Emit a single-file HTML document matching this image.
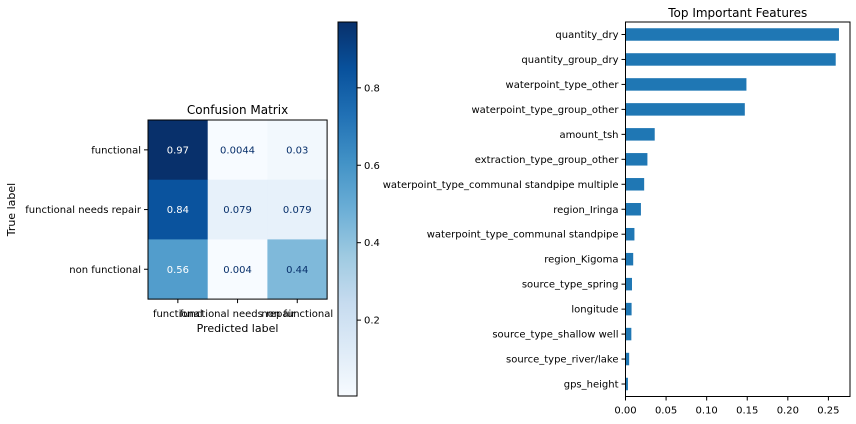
<!DOCTYPE html>
<html><head><meta charset="utf-8"><style>
body{margin:0;background:#fff;}
svg{display:block;font-family:"DejaVu Sans","Liberation Sans",sans-serif;}
</style></head><body>
<svg id="fig" width="856" height="424">
<defs>
<linearGradient id="blues" x1="0" y1="1" x2="0" y2="0">
<stop offset="0" stop-color="#f7fbff"/><stop offset="0.125" stop-color="#deebf7"/><stop offset="0.25" stop-color="#c6dbef"/><stop offset="0.375" stop-color="#9ecae1"/><stop offset="0.5" stop-color="#6baed6"/><stop offset="0.625" stop-color="#4292c6"/><stop offset="0.75" stop-color="#2171b5"/><stop offset="0.875" stop-color="#08519c"/><stop offset="1" stop-color="#08306b"/>
</linearGradient>
</defs>
<g id="cm"></g>
<g id="cb"></g>
<g id="bars"></g>
</svg>
<script>
const cmLabels = ["functional","functional needs repair","non functional"];
const cmValues = [[0.97,0.0044,0.03],[0.84,0.079,0.079],[0.56,0.004,0.44]];
const cmText = [["0.97","0.0044","0.03"],["0.84","0.079","0.079"],["0.56","0.004","0.44"]];
const cbTicks = [0.2,0.4,0.6,0.8];
const features = ["quantity_dry","quantity_group_dry","waterpoint_type_other","waterpoint_type_group_other","amount_tsh","extraction_type_group_other","waterpoint_type_communal standpipe multiple","region_Iringa","waterpoint_type_communal standpipe","region_Kigoma","source_type_spring","longitude","source_type_shallow well","source_type_river/lake","gps_height"];
const importances = [0.263,0.259,0.149,0.147,0.036,0.027,0.023,0.019,0.011,0.0095,0.008,0.0075,0.0072,0.0045,0.003];
const xTicks = [0,0.05,0.1,0.15,0.2,0.25];
const xTickLabels = ["0.00","0.05","0.10","0.15","0.20","0.25"];

const NS="http://www.w3.org/2000/svg";
function mk(parent,tag,attrs,text){const e=document.createElementNS(NS,tag);for(const k in attrs)e.setAttribute(k,attrs[k]);if(text!==undefined)e.textContent=text;parent.appendChild(e);return e;}
const stops=[[0,[247,251,255]],[.125,[222,235,247]],[.25,[198,219,239]],[.375,[158,202,225]],[.5,[107,174,214]],[.625,[66,146,198]],[.75,[33,113,181]],[.875,[8,81,156]],[1,[8,48,107]]];
function blues(t){t=Math.max(0,Math.min(1,t));for(let i=1;i<stops.length;i++){if(t<=stops[i][0]){const a=stops[i-1],b=stops[i];const f=(t-a[0])/(b[0]-a[0]);const c=a[1].map((v,j)=>Math.round(v+(b[1][j]-v)*f));return `rgb(${c.join(',')})`;}}return 'rgb(8,48,107)';}
const vmin=0.004,vmax=0.97;

// Confusion matrix
const cm=document.getElementById('cm');
const mx0=148,my0=120,cs=59.7;
mk(cm,'text',{x:mx0+1.5*cs,y:114,'text-anchor':'middle','font-size':12,fill:'#000',},'Confusion Matrix');
cmValues.forEach((row,i)=>row.forEach((v,j)=>{
  const r=mk(cm,'rect',{x:mx0+j*cs,y:my0+i*cs,width:cs+0.5,height:cs+0.5,fill:blues((v-vmin)/(vmax-vmin))});
  
  
  const t=mk(cm,'text',{x:mx0+(j+0.5)*cs,y:my0+(i+0.5)*cs+3.5,'text-anchor':'middle','font-size':10,fill:v>vmax/2?'#fff':'#08306b'},cmText[i][j]);
  
  
}));
mk(cm,'rect',{x:mx0,y:my0,width:3*cs,height:3*cs,fill:'none',stroke:'#000','stroke-width':1});
cmLabels.forEach((l,i)=>{
  mk(cm,'line',{x1:mx0-4,x2:mx0,y1:my0+(i+.5)*cs,y2:my0+(i+.5)*cs,stroke:'#000'});
  const t=mk(cm,'text',{x:mx0-7,y:my0+(i+.5)*cs+3.5,'text-anchor':'end','font-size':10,fill:'#000'},l);
  
  
  mk(cm,'line',{x1:mx0+(i+.5)*cs,x2:mx0+(i+.5)*cs,y1:my0+3*cs,y2:my0+3*cs+4,stroke:'#000'});
  const t2=mk(cm,'text',{x:mx0+(i+.5)*cs,y:my0+3*cs+18,'text-anchor':'middle','font-size':10,fill:'#000'},l);
  
  
});
mk(cm,'text',{x:mx0+1.5*cs,y:332,'text-anchor':'middle','font-size':11,fill:'#000',},'Predicted label');
mk(cm,'text',{x:0,y:0,transform:`translate(15,${my0+1.5*cs}) rotate(-90)`,'text-anchor':'middle','font-size':11,fill:'#000',},'True label');

// Colorbar
const cb=document.getElementById('cb');
const cx=338,cw=19,cy0=22,cy1=396;
mk(cb,'rect',{x:cx,y:cy0,width:cw,height:cy1-cy0,fill:'url(#blues)',stroke:'#000','stroke-width':1});
cbTicks.forEach(v=>{
  const y=cy1-(v-vmin)/(vmax-vmin)*(cy1-cy0);
  mk(cb,'line',{x1:cx+cw,x2:cx+cw+4,y1:y,y2:y,stroke:'#000'});
  const t=mk(cb,'text',{x:cx+cw+7,y:y+3.5,'font-size':10,fill:'#000'},v.toFixed(1));
  
  
});

// Bar chart
const bg=document.getElementById('bars');
const ax0=625.5,ax1=850,ay0=22,ay1=396.5,xmax=0.2766;
const sx=v=>ax0+v/xmax*(ax1-ax0);
const step=(ay1-ay0)/features.length;
mk(bg,'text',{x:(ax0+ax1)/2,y:17,'text-anchor':'middle','font-size':12,fill:'#000',},'Top Important Features');
features.forEach((f,i)=>{
  const yc=ay0+(i+0.5)*step;
  const r=mk(bg,'rect',{x:ax0,y:yc-step*0.25,width:sx(importances[i])-ax0,height:step*0.5,fill:'#1f77b4'});
  
  
  mk(bg,'line',{x1:ax0-4,x2:ax0,y1:yc,y2:yc,stroke:'#000'});
  const t=mk(bg,'text',{x:ax0-7,y:yc+3.5,'text-anchor':'end','font-size':10,fill:'#000'},f);
  
  
});
mk(bg,'rect',{x:ax0,y:ay0,width:ax1-ax0,height:ay1-ay0,fill:'none',stroke:'#000','stroke-width':1});
xTicks.forEach((v,i)=>{
  const x=sx(v);
  mk(bg,'line',{x1:x,x2:x,y1:ay1,y2:ay1+4,stroke:'#000'});
  const t=mk(bg,'text',{x:x,y:ay1+17,'text-anchor':'middle','font-size':10,fill:'#000'},xTickLabels[i]);
  
  
});
</script>
</body></html>
